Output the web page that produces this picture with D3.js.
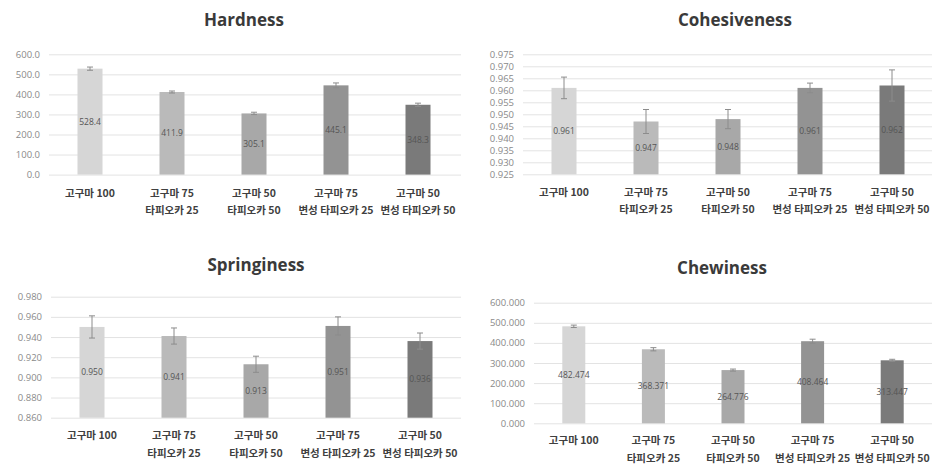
<!DOCTYPE html>
<html>
<head>
<meta charset="utf-8">
<script src="https://cdn.jsdelivr.net/npm/d3@7"></script>
<style>
  html, body { margin: 0; padding: 0; background: #fff; }
  svg { display: block; }
</style>
</head>
<body>
<svg id="chart" width="932" height="464"></svg>
<script>
// Texture profile of sweet potato / tapioca blends
const categories = [
  ["고구마 100"],
  ["고구마 75", "타피오카 25"],
  ["고구마 50", "타피오카 50"],
  ["고구마 75", "변성 타피오카 25"],
  ["고구마 50", "변성 타피오카 50"]
];

const hardness = [528.4, 411.9, 305.1, 445.1, 348.3];
const hardnessErr = [8, 5, 6, 12, 8];
const hardnessTicks = [0, 100, 200, 300, 400, 500, 600];

const cohesiveness = [0.961, 0.947, 0.948, 0.961, 0.962];
const cohesivenessErr = [0.0045, 0.005, 0.004, 0.002, 0.0065];
const cohesivenessTicks = [0.925, 0.930, 0.935, 0.940, 0.945, 0.950, 0.955, 0.960, 0.965, 0.970, 0.975];

const springiness = [0.950, 0.941, 0.913, 0.951, 0.936];
const springinessErr = [0.011, 0.008, 0.008, 0.009, 0.008];
const springinessTicks = [0.860, 0.880, 0.900, 0.920, 0.940, 0.960, 0.980];

const chewiness = [482.474, 368.371, 264.776, 408.464, 313.447];
const chewinessErr = [6, 8, 5, 10, 5];
const chewinessTicks = [0, 100, 200, 300, 400, 500, 600];

const barColors = ["#d6d6d6", "#bababa", "#a8a8a8", "#939393", "#7a7a7a"];

const svg = d3.select("#chart");

function panel(opt) {
  const g = svg.append("g");
  const x = d3.scaleBand()
    .domain(d3.range(categories.length))
    .range([opt.x0, opt.x1]);
  const y = d3.scaleLinear()
    .domain([opt.ticks[0], opt.ticks[opt.ticks.length - 1]])
    .range([opt.yBottom, opt.yTop]);

  // title
  g.append("text")
    .attr("x", opt.titleX)
    .attr("y", opt.titleY)
    .attr("text-anchor", "middle")
    .attr("font-family", "'Open Sans', 'Noto Sans', sans-serif")
    .attr("font-weight", 700)
    .attr("font-size", 17)
    .attr("fill", "#3a3a3a")
    .text(opt.title);

  // value axis with gridlines
  const axis = d3.axisLeft(y)
    .tickValues(opt.ticks)
    .tickFormat(d3.format(opt.tickFmt))
    .tickSize(-(opt.gridX1 - opt.x0))
    .tickPadding(9);
  const ag = g.append("g")
    .attr("transform", `translate(${opt.x0},0)`)
    .call(axis);
  ag.select(".domain").remove();
  ag.selectAll(".tick line")
    .attr("stroke", "#e3e3e3")
    .attr("stroke-width", 1);
  ag.selectAll(".tick text")
    .attr("font-family", "'Open Sans', 'Noto Sans', sans-serif")
    .attr("font-size", 9.5)
    .attr("fill", "#8a8a8a");

  const bw = opt.barW;
  const cx = i => x(i) + x.bandwidth() / 2;

  // bars
  g.selectAll("rect.bar")
    .data(opt.values)
    .join("rect")
    .attr("class", "bar")
    .attr("x", (d, i) => cx(i) - bw / 2)
    .attr("y", d => y(d))
    .attr("width", bw)
    .attr("height", d => y(opt.ticks[0]) - y(d))
    .attr("fill", (d, i) => barColors[i]);

  // error bars
  const eg = g.selectAll("g.err")
    .data(opt.values)
    .join("g")
    .attr("class", "err")
    .attr("stroke", "#8c8c8c")
    .attr("stroke-width", 1);
  eg.append("line")
    .attr("x1", (d, i) => cx(i)).attr("x2", (d, i) => cx(i))
    .attr("y1", (d, i) => y(d + opt.errs[i]))
    .attr("y2", (d, i) => y(d - opt.errs[i]));
  eg.append("line")
    .attr("x1", (d, i) => cx(i) - 3).attr("x2", (d, i) => cx(i) + 3)
    .attr("y1", (d, i) => y(d + opt.errs[i]))
    .attr("y2", (d, i) => y(d + opt.errs[i]));
  eg.append("line")
    .attr("x1", (d, i) => cx(i) - 3).attr("x2", (d, i) => cx(i) + 3)
    .attr("y1", (d, i) => y(d - opt.errs[i]))
    .attr("y2", (d, i) => y(d - opt.errs[i]));

  // value labels in the middle of each bar
  g.selectAll("text.val")
    .data(opt.values)
    .join("text")
    .attr("class", "val")
    .attr("x", (d, i) => cx(i))
    .attr("y", d => (y(d) + y(opt.ticks[0])) / 2)
    .attr("dy", "0.35em")
    .attr("text-anchor", "middle")
    .attr("font-family", "'Open Sans', 'Noto Sans', sans-serif")
    .attr("font-size", 8.5)
    .attr("fill", "#555")
    .text(d => d3.format(opt.valFmt)(d));

  // category labels
  const cg = g.selectAll("text.cat")
    .data(categories)
    .join("text")
    .attr("class", "cat")
    .attr("x", (d, i) => cx(i))
    .attr("y", opt.catY)
    .attr("text-anchor", "middle")
    .attr("font-family", "'Noto Sans CJK KR', sans-serif")
    .attr("font-weight", 700)
    .attr("font-size", 10.5)
    .attr("fill", "#404040");
  cg.selectAll("tspan")
    .data(d => d)
    .join("tspan")
    .attr("x", function () { return d3.select(this.parentNode).attr("x"); })
    .attr("dy", (d, j) => j === 0 ? 0 : 17.5)
    .text(d => d);
}

panel({
  title: "Hardness", titleX: 244, titleY: 26,
  values: hardness, errs: hardnessErr, ticks: hardnessTicks,
  tickFmt: ".1f", valFmt: ".1f",
  x0: 49, x1: 459, gridX1: 461, yTop: 54.3, yBottom: 174.6,
  barW: 25, catY: 196.5
});

panel({
  title: "Cohesiveness", titleX: 735, titleY: 26,
  values: cohesiveness, errs: cohesivenessErr, ticks: cohesivenessTicks,
  tickFmt: ".3f", valFmt: ".3f",
  x0: 523, x1: 933, gridX1: 932, yTop: 54.3, yBottom: 174.3,
  barW: 25, catY: 195.5
});

panel({
  title: "Springiness", titleX: 256, titleY: 271,
  values: springiness, errs: springinessErr, ticks: springinessTicks,
  tickFmt: ".3f", valFmt: ".3f",
  x0: 51, x1: 461, gridX1: 461, yTop: 296.7, yBottom: 417.7,
  barW: 25, catY: 439
});

panel({
  title: "Chewiness", titleX: 722, titleY: 274,
  values: chewiness, errs: chewinessErr, ticks: chewinessTicks,
  tickFmt: ".3f", valFmt: ".3f",
  x0: 534, x1: 932, gridX1: 932, yTop: 302.7, yBottom: 423.3,
  barW: 23, catY: 444
});
</script>
</body>
</html>
